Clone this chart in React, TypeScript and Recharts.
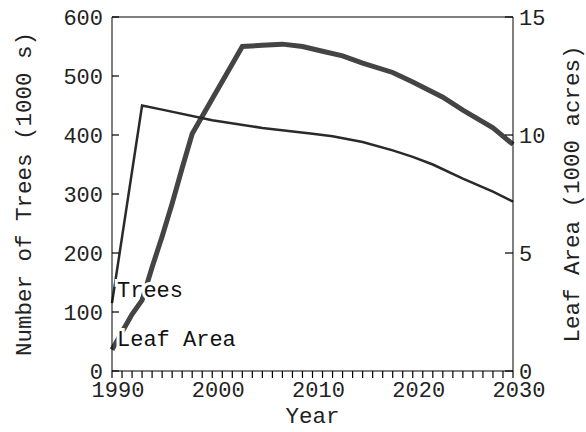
import { LineChart, Line, XAxis, YAxis, ReferenceLine, LabelList } from "recharts";

const FONT = "'Liberation Mono', monospace";

const YEAR_TICKS = [
  1990, 1991, 1992, 1993, 1994, 1995, 1996, 1997, 1998, 1999,
  2000, 2001, 2002, 2003, 2004, 2005, 2006, 2007, 2008, 2009,
  2010, 2011, 2012, 2013, 2014, 2015, 2016, 2017, 2018, 2019,
  2020, 2021, 2022, 2023, 2024, 2025, 2026, 2027, 2028, 2029, 2030,
];
const TREE_TICKS = [0, 100, 200, 300, 400, 500, 600];
const LEAF_TICKS = [0, 5, 10, 15];

// trees (1000 s)
const TREE_YEARS = [1990, 1993, 1995, 2000, 2005, 2010, 2012, 2015, 2018, 2020, 2022, 2025, 2028, 2030];
const TREE_VALUES = [115, 450, 443, 425, 412, 402, 398, 388, 374, 363, 350, 326, 304, 287];

// leaf area (1000 acres)
const LEAF_YEARS = [
  1990, 1991, 1992, 1993, 1994, 1995, 1996, 1997, 1998, 2003, 2005, 2007,
  2009, 2011, 2013, 2015, 2018, 2020, 2023, 2025, 2028, 2030,
];
const LEAF_VALUES = [
  0.9, 1.65, 2.4, 3.0, 4.4, 5.7, 7.1, 8.6, 10.05, 13.75, 13.8, 13.85,
  13.75, 13.55, 13.35, 13.05, 12.65, 12.25, 11.6, 11.05, 10.3, 9.6,
];

const treeData = TREE_YEARS.map((year, i) => ({ year, trees: TREE_VALUES[i] }));
const leafData = LEAF_YEARS.map((year, i) => ({ year, leaf: LEAF_VALUES[i] }));

const TICK_FONT = 22;

// ticks drawn by hand so the marks can sit inside/outside like the original
function YearTick(props: any) {
  const { x, y, payload } = props;
  const v = payload.value as number;
  return (
    <g>
      <path d={`M${x},${y - 9}V${y - 2}`} stroke="#000" strokeWidth={1.2} />
      {v % 10 === 0 && (
        <text x={x + 6} y={y} dy="0.75em" textAnchor="middle" fontFamily={FONT} fontSize={TICK_FONT} fill="#222">
          {v}
        </text>
      )}
    </g>
  );
}

function LeftTick(props: any) {
  const { x, y, payload } = props;
  return (
    <g>
      <path d={`M${x + 9},${y}H${x + 16}`} stroke="#000" strokeWidth={1.2} />
      <text x={x} y={y} dy="0.36em" textAnchor="end" fontFamily={FONT} fontSize={TICK_FONT} fill="#222">
        {payload.value}
      </text>
    </g>
  );
}

function RightTick(props: any) {
  const { x, y, payload } = props;
  return (
    <g>
      <path d={`M${x - 14},${y}H${x - 6}`} stroke="#000" strokeWidth={1.2} />
      <text x={x} y={y} dy="0.36em" textAnchor="start" fontFamily={FONT} fontSize={TICK_FONT} fill="#222">
        {payload.value}
      </text>
    </g>
  );
}

function inlineLabel(text: string, dx: number, dy: number) {
  return (props: any) => {
    if (props.index !== 0) return null;
    const x = props.x ?? props.viewBox?.x;
    const y = props.y ?? props.viewBox?.y;
    return (
      <text
        x={x + dx}
        y={y + dy}
        fontFamily={FONT}
        fontSize={22}
        fill="#111"
        stroke="#fff"
        strokeWidth={6}
        paintOrder="stroke"
      >
        {text}
      </text>
    );
  };
}

function sideTitle(text: string, offset: number) {
  return (props: any) => {
    const vb = props.viewBox;
    const cx = vb.x + offset;
    const cy = vb.y + vb.height / 2;
    return (
      <text
        x={cx}
        y={cy}
        transform={`rotate(-90, ${cx}, ${cy})`}
        textAnchor="middle"
        dominantBaseline="central"
        fontFamily={FONT}
        fontSize={22.5}
        fill="#222"
      >
        {text}
      </text>
    );
  };
}

export default function App() {
  return (
    <div style={{ position: "absolute", left: 0, top: 0, background: "#fff" }}>
      <LineChart width={586} height={432} margin={{ top: 17, right: 0, bottom: 0, left: 0 }}>
        <XAxis
          type="number"
          dataKey="year"
          domain={[1990, 2030]}
          ticks={YEAR_TICKS}
          interval={0}
          height={61}
          tickSize={7}
          tickMargin={2}
          stroke="#000"
          tickLine={false}
          tick={<YearTick />}
          label={{ value: "Year", position: "insideBottom", offset: 9, fontFamily: FONT, fontSize: 22.5, fill: "#222" }}
        />
        <YAxis
          yAxisId="trees"
          domain={[0, 600]}
          ticks={TREE_TICKS}
          width={112}
          tickSize={-7}
          tickMargin={16}
          stroke="#000"
          tickLine={false}
          tick={<LeftTick />}
          label={{ content: sideTitle("Number of Trees (1000 s)", 25) }}
        />
        <YAxis
          yAxisId="leaf"
          orientation="right"
          domain={[0, 15]}
          ticks={LEAF_TICKS}
          width={73}
          tickSize={-8}
          tickMargin={14}
          stroke="#000"
          tickLine={false}
          tick={<RightTick />}
          label={{ content: sideTitle("Leaf Area (1000 acres)", 60) }}
        />
        <ReferenceLine yAxisId="trees" y={600} stroke="#000" />
        <Line
          yAxisId="leaf"
          data={leafData}
          dataKey="leaf"
          type="linear"
          stroke="#444"
          strokeWidth={5}
          dot={false}
          isAnimationActive={false}
        >
          <LabelList content={inlineLabel("Leaf Area", 5, -4)} />
        </Line>
        <Line
          yAxisId="trees"
          data={treeData}
          dataKey="trees"
          type="linear"
          stroke="#2a2a2a"
          strokeWidth={2.5}
          dot={false}
          isAnimationActive={false}
        >
          <LabelList content={inlineLabel("Trees", 5, -6)} />
        </Line>
      </LineChart>
    </div>
  );
}
